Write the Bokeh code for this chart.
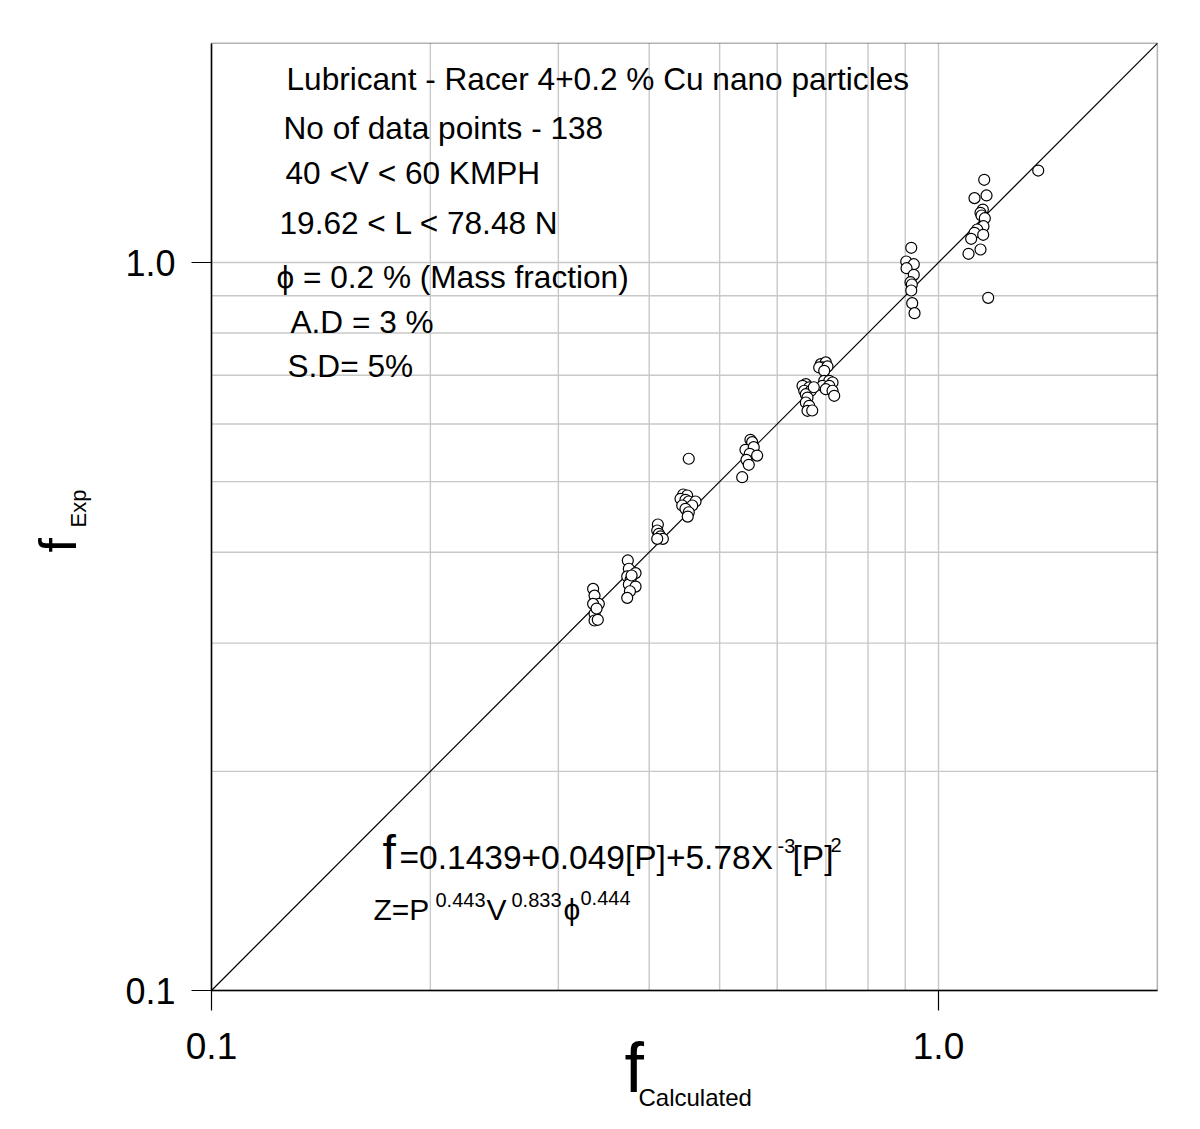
from bokeh.plotting import figure
from bokeh.models import Label, FixedTicker, CustomJSTickFormatter, Range1d, BoxAnnotation
from bokeh.embed import file_html
from bokeh.resources import INLINE
import math

# ---- data ----
f_calc = [
    # cluster ~0.34
    0.3349, 0.3364, 0.3410, 0.3349, 0.3364, 0.3364, 0.3399, 0.3386,
    # cluster ~0.38
    0.3738, 0.3750, 0.3831, 0.3731, 0.3771, 0.3750, 0.3831, 0.3763, 0.3731, 0.3783,
    # cluster ~0.41
    0.4111, 0.4103, 0.4124, 0.4146, 0.4177, 0.4103,
    # cluster ~0.45
    0.4534, 0.4455, 0.4511, 0.4417, 0.4487, 0.4534, 0.4632, 0.4441, 0.4584, 0.4487, 0.4534, 0.4519,
    # cluster ~0.55
    0.5512, 0.5542, 0.5426, 0.5570, 0.5500, 0.5630, 0.5443, 0.5483, 0.5370,
    # cluster ~0.69
    0.6888, 0.6998, 0.6925, 0.6853, 0.7036, 0.6963,
    0.6963, 0.7075, 0.7149, 0.6925, 0.7075, 0.6998, 0.7149, 0.7187,
    0.6569, 0.6501, 0.6640, 0.6536, 0.6674, 0.6569, 0.6604, 0.6569, 0.6640, 0.6604, 0.6737, 0.6703,
    # cluster ~0.92
    0.9173, 0.9029, 0.9247, 0.9037, 0.9247, 0.9151, 0.9190, 0.9173, 0.9201, 0.9269,
    # cluster ~1.15
    1.3714, 1.1558, 1.1208, 1.1643, 1.1507, 1.1423, 1.1460, 1.1580, 1.1531, 1.1304,
    1.1208, 1.1521, 1.1090, 1.1423, 1.0997, 1.1704,
]
f_exp = [
    0.3562, 0.3487, 0.3397, 0.3397, 0.3292, 0.3223, 0.3230, 0.3347,
    0.3897, 0.3796, 0.3744, 0.3705, 0.3666, 0.3611, 0.3588, 0.3535, 0.3462, 0.3716,
    0.4366, 0.4284, 0.4240, 0.4204, 0.4173, 0.4173,
    0.5376, 0.4801, 0.4786, 0.4736, 0.4721, 0.4696, 0.4696, 0.4637, 0.4637, 0.4588, 0.4539, 0.4477,
    0.5708, 0.5665, 0.5530, 0.5576, 0.5460, 0.5430, 0.5357, 0.5274, 0.5071,
    0.7250, 0.7290, 0.7175, 0.7175, 0.7198, 0.7099,
    0.6879, 0.6879, 0.6842, 0.6771, 0.6771, 0.6698, 0.6665, 0.6560,
    0.6806, 0.6771, 0.6735, 0.6665, 0.6665, 0.6593, 0.6524, 0.6422, 0.6355, 0.6256, 0.6740, 0.6262,
    1.0476, 1.0032, 0.9946, 0.9821, 0.9618, 0.9396, 0.9328, 0.9153, 0.8793, 0.8519,
    1.3375, 1.2990, 1.2257, 1.2362, 1.1824, 1.1701, 1.1602, 1.1504, 1.1217, 1.1101,
    1.0985, 1.0916, 1.0779, 1.0420, 1.0279, 0.8943,
]
axis_limits = [0.1, 2.0]          # both axes run from 0.1 to 2.0
axis_ticks = [0.1, 1.0]
grid_ticks = [0.2, 0.3, 0.4, 0.5, 0.6, 0.7, 0.8, 0.9, 1.0]
info_lines = [
    "Lubricant - Racer 4+0.2 % Cu nano particles",
    "No of data points - 138",
    "40 <V < 60 KMPH",
    "19.62 < L <  78.48 N",
    "\u03d5 = 0.2 % (Mass fraction)",
    "A.D = 3 %",
    "S.D= 5%",
]

FONT = "Liberation Sans"

# ---- layout (pixels) ----
W, H = 1192, 1125
BOX_L, BOX_B = 211, 990          # where 0.1 / 0.1 lands on the canvas
DEC_X, DEC_Y = 727, 728          # pixels per decade

lo = math.log10(axis_limits[0])
x_start = 10 ** (lo - BOX_L / DEC_X)
x_end = 10 ** (lo + (W - BOX_L) / DEC_X)
y_start = 10 ** (lo - (H - BOX_B) / DEC_Y)
y_end = 10 ** (lo + BOX_B / DEC_Y)

p = figure(width=W, height=H, x_axis_type="log", y_axis_type="log",
           x_range=Range1d(x_start, x_end), y_range=Range1d(y_start, y_end),
           output_backend="svg", toolbar_location=None, min_border=0)
p.background_fill_color = "white"
p.border_fill_color = "white"
p.outline_line_color = None
p.grid.visible = False

fmt = CustomJSTickFormatter(code="return tick.toFixed(1);")

for ax in (p.xaxis[0], p.yaxis[0]):
    ax.ticker = FixedTicker(ticks=axis_ticks, minor_ticks=[])
    ax.formatter = fmt
    ax.fixed_location = axis_limits[0]
    ax.bounds = (axis_limits[0], axis_limits[1])
    ax.major_tick_out = 20
    ax.major_tick_in = 0
    ax.minor_tick_out = 0
    ax.minor_tick_in = 0
    ax.axis_line_color = "black"
    ax.axis_line_width = 1.5
    ax.major_tick_line_color = "black"
    ax.major_tick_line_width = 1.2
    ax.major_label_text_color = "black"
    ax.major_label_text_font = FONT

p.xaxis.major_label_text_font_size = "37px"
p.xaxis.major_label_standoff = 22
p.yaxis.major_label_text_font_size = "36px"
p.yaxis.major_label_standoff = 16
p.yaxis.major_label_orientation = "horizontal"

# grid lines inside the box
n = len(grid_ticks)
p.segment(x0=grid_ticks, y0=[axis_limits[0]] * n, x1=grid_ticks, y1=[axis_limits[1]] * n,
          line_color="#c8c8c8", line_width=1.4)
p.segment(x0=[axis_limits[0]] * n, y0=grid_ticks, x1=[axis_limits[1]] * n, y1=grid_ticks,
          line_color="#c8c8c8", line_width=1.4)

# box around plotting area
p.add_layout(BoxAnnotation(left=axis_limits[0], right=axis_limits[1],
                           bottom=axis_limits[0], top=axis_limits[1],
                           fill_alpha=0, line_color="black", line_width=1.5))

# 1:1 line
p.line(axis_limits, axis_limits, line_color="black", line_width=1.2)

p.scatter(f_calc, f_exp, size=11, marker="circle", fill_color="white",
          line_color="black", line_width=1.2)


def lab(t, px, py, size, angle=0.0):
    p.add_layout(Label(x=px, y=H - py, x_units="screen", y_units="screen", text=t,
                       text_font=FONT, text_font_size=size, text_color="black",
                       text_baseline="middle", text_align="left", angle=angle))


# info text block (x = left edge, y = vertical middle, canvas pixels)
info_pos = [(286, 78), (283, 127), (285, 172), (279, 222), (276, 276), (290, 321), (287, 365)]
for txt, (px, py) in zip(info_lines, info_pos):
    lab(txt, px, py, "31.6px")

# equation
lab("f", 382, 852, "48px")
lab("=0.1439+0.049[P]+5.78X", 399, 857, "33.5px")
lab("-3", 777, 845, "20px")
lab("[P]", 792, 857, "33.5px")
lab("2", 830, 844, "20px")
lab("Z=P", 373, 909, "30px")
lab("0.443", 435, 899, "20px")
lab("V", 486, 909, "30px")
lab("0.833", 511, 899, "20px")
lab("\u03d5", 563, 909, "30px")
lab("0.444", 580, 897, "20px")

# axis titles
lab("f", 624, 1067, "70px")
lab("Calculated", 638, 1097, "24px")
lab("f", 57, 552, "52px", angle=math.pi / 2)
lab("Exp", 78, 527, "22px", angle=math.pi / 2)

open("out.html", "w").write(file_html(p, INLINE))
